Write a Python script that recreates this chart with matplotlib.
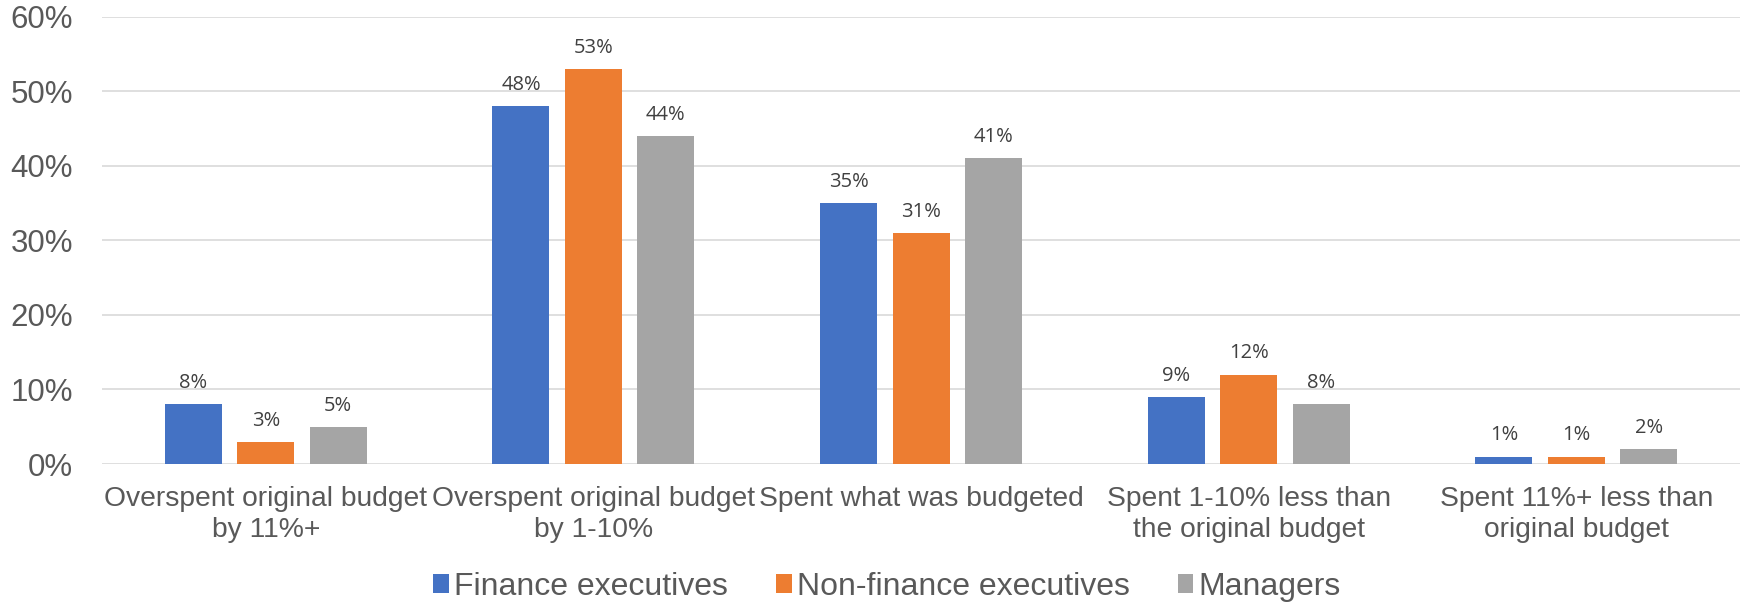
import matplotlib
matplotlib.use("Agg")
import matplotlib.pyplot as plt
import numpy as np
from matplotlib.ticker import PercentFormatter

categories = [
    "Overspent original budget\nby 11%+",
    "Overspent original budget\nby 1-10%",
    "Spent what was budgeted",
    "Spent 1-10% less than\nthe original budget",
    "Spent 11%+ less than\noriginal budget",
]
series_names = ["Finance executives", "Non-finance executives", "Managers"]
finance_exec = [8, 48, 35, 9, 1]
non_finance_exec = [3, 53, 31, 12, 1]
managers = [5, 44, 41, 8, 2]
y_ticks = [0, 10, 20, 30, 40, 50, 60]

colors = ["#4472C4", "#ED7D31", "#A5A5A5"]
text_gray = "#595959"

fig = plt.figure(figsize=(17.46, 6.05), dpi=100)
ax = fig.add_axes([0.0584, 0.233, 0.9382, 0.7394])

x = np.arange(len(categories))
bar_w = 0.174
step = 0.221
all_series = [finance_exec, non_finance_exec, managers]
for i, (vals, name, c) in enumerate(zip(all_series, series_names, colors)):
    pos = x + (i - 1) * step
    bars = ax.bar(pos, vals, width=bar_w, color=c, label=name, zorder=3)
    for b, v in zip(bars, vals):
        ax.annotate(f"{v}%", (b.get_x() + b.get_width() / 2, v),
                    xytext=(0, 8), textcoords="offset points",
                    ha="center", va="bottom", fontsize=14.5,
                    family="Open Sans", color="#404040")

ax.set_xlim(-0.5, len(categories) - 0.5)
ax.set_ylim(0, 60)
ax.set_yticks(y_ticks)
ax.yaxis.set_major_formatter(PercentFormatter(decimals=0))
ax.set_xticks(x)
ax.set_xticklabels(categories, family="Liberation Sans", fontsize=20.3,
                   color=text_gray, linespacing=1.25)
for lab in ax.get_yticklabels():
    lab.set_family("Liberation Sans")
    lab.set_fontsize(22.5)
    lab.set_color(text_gray)
ax.tick_params(axis="y", length=0, pad=21)
ax.tick_params(axis="x", length=0, pad=16)
ax.grid(axis="y", color="#D9D9D9", linewidth=1.2, zorder=0)
for s in ax.spines.values():
    s.set_visible(False)

leg = fig.legend(loc="center", bbox_to_anchor=(0.508, 0.030), ncol=3,
                 frameon=False, handlelength=0.5, handleheight=0.5,
                 handletextpad=0.15, columnspacing=1.5,
                 prop={"family": "Liberation Sans", "size": 23})
for t in leg.get_texts():
    t.set_color(text_gray)

fig.savefig("out.png", dpi=100)
